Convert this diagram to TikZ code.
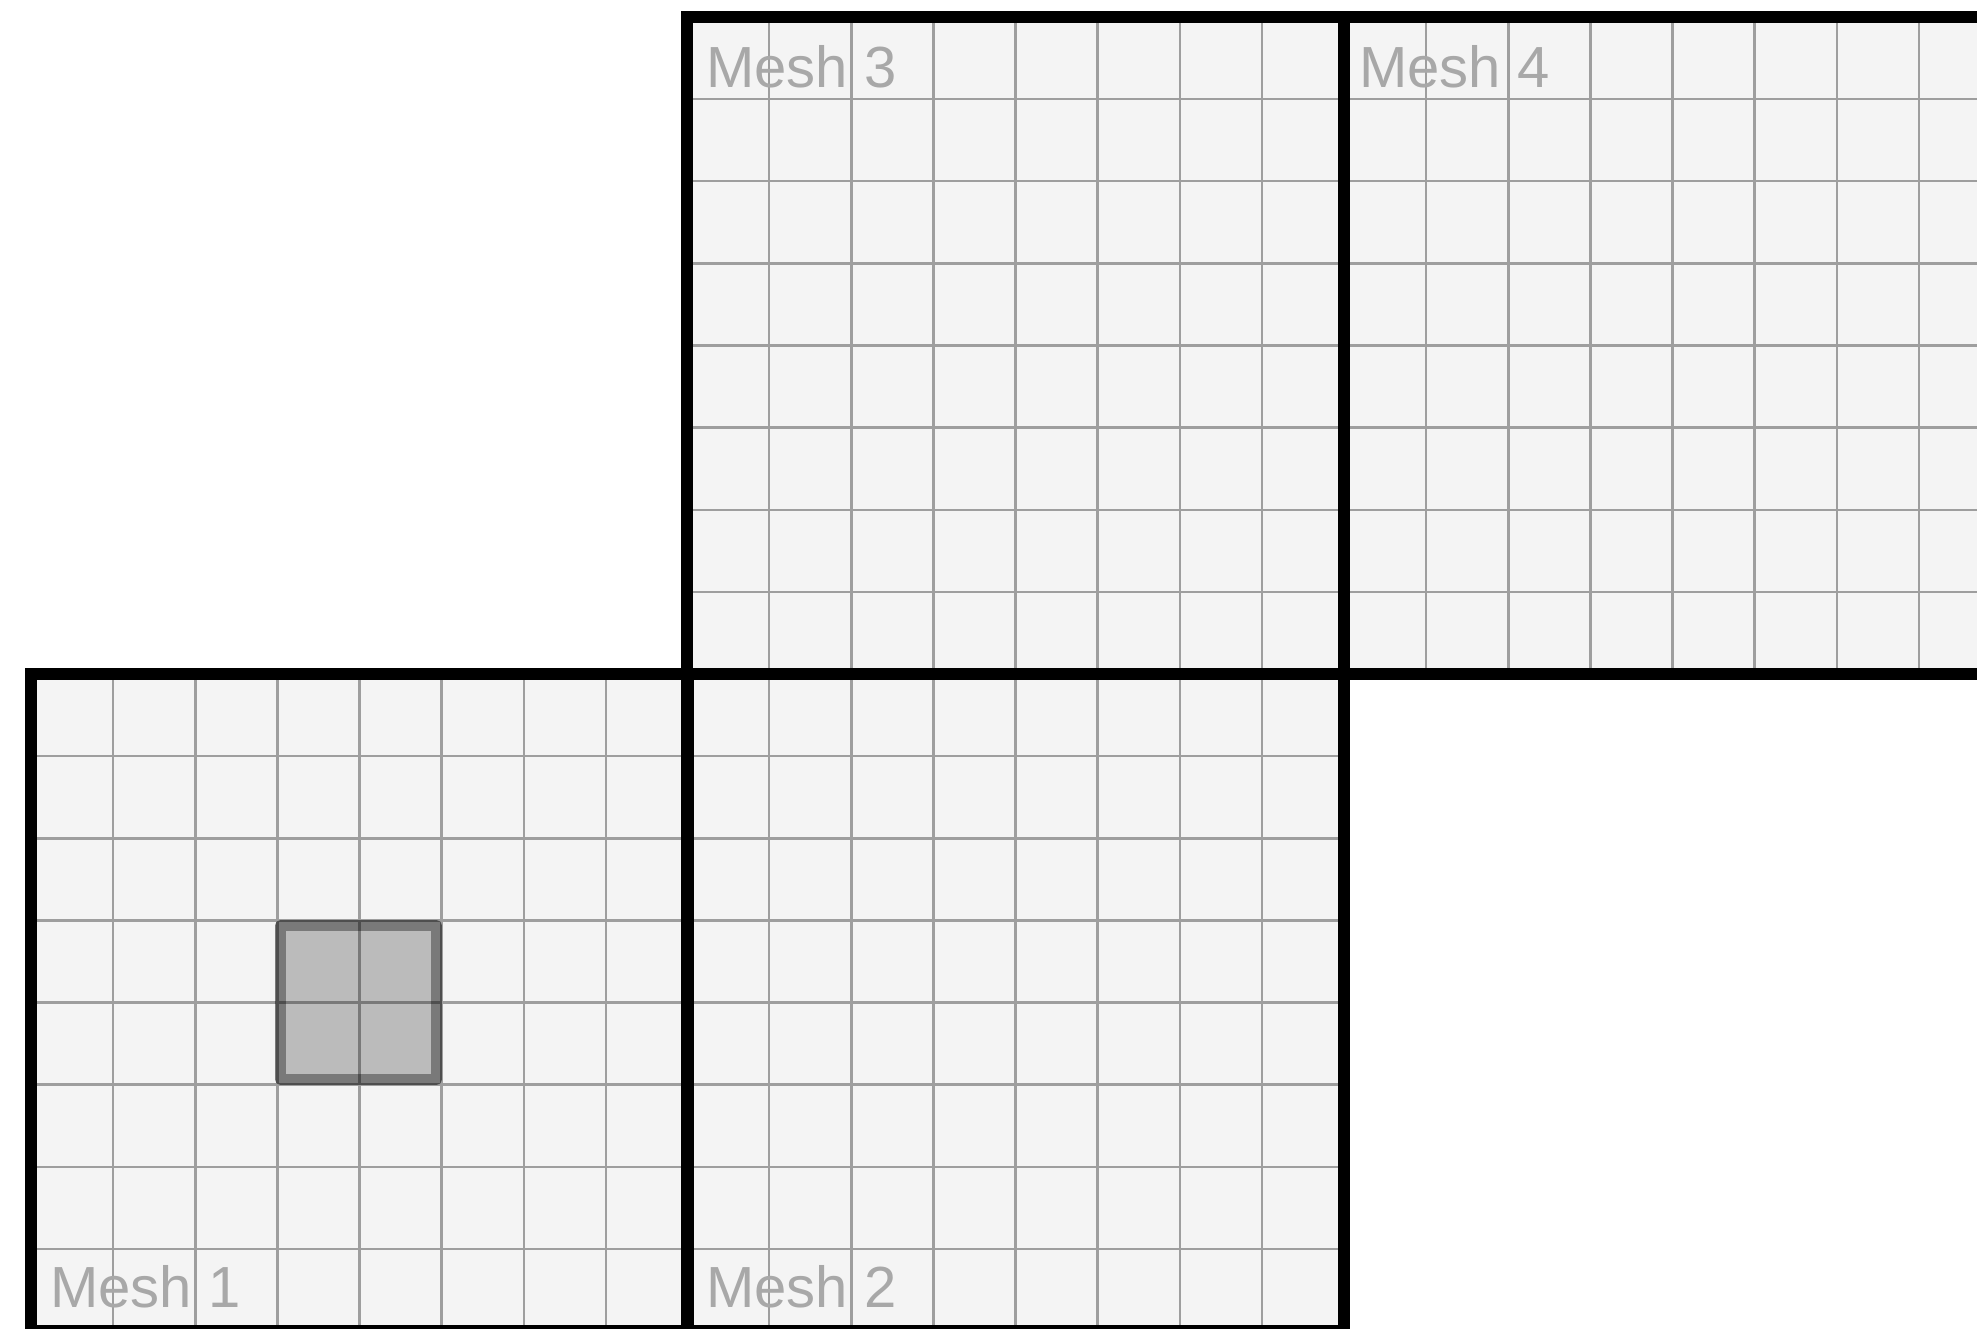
\documentclass[tikz,border=0pt]{standalone}
\usepackage{fontspec}
\setmainfont{Liberation Sans}
\definecolor{meshbg}{HTML}{F4F4F4}
\definecolor{gridgray}{HTML}{9E9E9E}
\definecolor{labelgray}{HTML}{A8A8A8}
\definecolor{hlfill}{HTML}{BBBBBB}
\definecolor{hlborder}{HTML}{777777}
\begin{document}
\begin{tikzpicture}[x=1pt,y=-1pt,
  gridline/.style={draw=gridgray,line width=2.5pt},
  meshborder/.style={draw=black,line width=12pt},
  meshlabel/.style={text=labelgray,font=\fontsize{58}{58}\selectfont,anchor=base west,inner sep=0pt},
  hlbox/.style={draw=hlborder,line width=11pt,line join=round}]
\useasboundingbox (0,0) rectangle (1977,1329);
\clip (0,0) rectangle (1977,1329);
\def\cs{82.125}
\foreach \x/\y in {31/674,687/674,687/17,1344/17}{
  \fill[meshbg] (\x,\y) rectangle ++(657,657);
  \foreach \i in {1,...,7}{
    \draw[gridline] ({\x+\i*\cs},\y) -- ++(0,657);
    \draw[gridline] (\x,{\y+\i*\cs}) -- ++(657,0);
  }
}
% highlighted cell block
\fill[black,fill opacity=0.23] (286,931) rectangle (431,1074);
\draw[hlbox,black,draw opacity=0.5] (280.5,925.5) rectangle (436.5,1079.5);
% mesh outlines
\foreach \x/\y in {31/674,687/674,687/17,1344/17}{
  \draw[meshborder] (\x,\y) rectangle ++(657,657);
}
\node[meshlabel] (m1) at (50,1307) {Mesh 1};
\node[meshlabel] (m2) at (706,1307) {Mesh 2};
\node[meshlabel] (m3) at (706,88) {Mesh 3};
\node[meshlabel] (m4) at (1359,88) {Mesh 4};
\end{tikzpicture}
\end{document}
